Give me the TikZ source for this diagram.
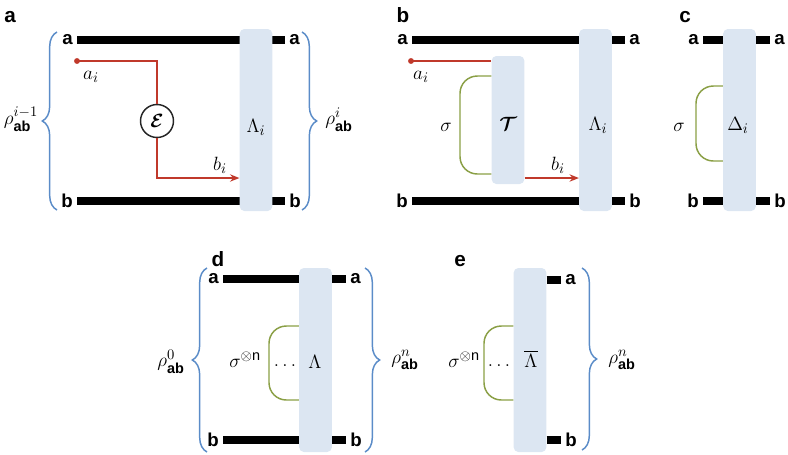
\documentclass[tikz,border=0pt]{standalone}
\usepackage{amsmath,amssymb}
\usepackage{fontspec}
\setmainfont{Liberation Sans}
\usetikzlibrary{decorations.pathreplacing,arrows.meta}

\definecolor{boxblue}{HTML}{DCE6F2}
\definecolor{braceblue}{HTML}{5B8CC8}
\definecolor{qred}{HTML}{C0392B}
\definecolor{bathgreen}{HTML}{8A9F45}

\tikzset{
  wire/.style={line width=6pt},
  opbox/.style={fill=boxblue, rounded corners=3.5pt, minimum width=24.5pt,
    minimum height=136.5pt, inner sep=0pt},
  qline/.style={qred, line width=1.5pt},
  bath/.style={bathgreen, line width=1.1pt, rounded corners=13pt},
  rhobrace/.style={braceblue, line width=1.1pt, decorate,
    decoration={brace, amplitude=11pt}},
  chan/.style={circle, draw=black!85, fill=white, line width=1.1pt,
    minimum size=24.75pt, inner sep=0pt, font=\fontsize{15.5}{18}\selectfont},
  wlab/.style={font=\fontsize{14}{16}\bfseries, inner sep=3pt},
  plab/.style={font=\fontsize{15.5}{18}\bfseries},
  mlab/.style={font=\fontsize{15.5}{18}\selectfont, inner sep=0pt},
  >={Stealth[length=7pt,width=5.5pt]}
}

\begin{document}
\begin{tikzpicture}[x=0.75pt, y=-0.75pt]
    \useasboundingbox (0,0) rectangle (788,454);

    % panel letters
    \node[plab] (pa) at (10,17) {a};
    \node[plab] (pb) at (403,15) {b};
    \node[plab] (pc) at (685,17.5) {c};
    \node[plab] (pd) at (218,259) {d};
    \node[plab] (pe) at (460,261) {e};

    % ---------- a ----------
    \node[wlab, anchor=east] (aa1) at (77,40) {a};
    \node[wlab, anchor=east] (ba1) at (77,201) {b};
    \node[wlab, anchor=west] (aa2) at (285,40) {a};
    \node[wlab, anchor=west] (ba2) at (285,201) {b};
    \draw[wire] (aa1) -- (aa2);
    \draw[wire] (ba1) -- (ba2);
    \node[opbox] (La) at (256,120) {};
    \node[mlab] (Lta) at (256,127) {$\Lambda_i$};

    % channel between a_i and b_i
    \coordinate (ai) at (77,61);
    \coordinate (bi) at (157,178);
    \node[chan] (eps) at (157,121) {$\boldsymbol{\mathcal{E}}$};
    \draw[qline] (ai) -| (eps);
    \draw[qline, ->] (eps) |- (La.west |- bi);
    \fill[qred] (ai) circle (2.2pt);
    \node[mlab] (lai) at (91,77) {$a_i$};
    \node[mlab] (lbi) at (220,165) {$b_i$};

    % states
    \draw[rhobrace] (57,210) -- (57,32);
    \node[mlab] (rho1) at (21,119) {$\rho^{i-1}_{\textbf{ab}}$};
    \draw[rhobrace] (302,32) -- (302,210);
    \node[mlab] (rho2) at (339,120) {$\rho^{i}_{\textbf{ab}}$};

    % ---------- b ----------
    \node[wlab, anchor=east] (ab1) at (412,40) {a};
    \node[wlab, anchor=east] (bb1) at (412,201) {b};
    \node[wlab, anchor=west] (ab2) at (625,40) {a};
    \node[wlab, anchor=west] (bb2) at (625,201) {b};
    \draw[wire] (ab1) -- (ab2);
    \draw[wire] (bb1) -- (bb2);
    \node[opbox] (Lb) at (595.5,120) {};
    \node[mlab] (Ltb) at (598,125) {$\Lambda_i$};
    \node[opbox, minimum height=96pt] (T) at (508,120) {};
    \node[mlab] (Tt) at (508,124) {$\boldsymbol{\mathcal{T}}$};

    \coordinate (ai2) at (411,61);
    \coordinate (bi2) at (524,178);
    \draw[qline] (ai2) -- (T.west |- ai2);
    \fill[qred] (ai2) circle (2.2pt);
    \draw[qline, ->] (T.east |- bi2) -- (Lb.west |- bi2);
    \node[mlab] (lai2) at (421,77) {$a_i$};
    \node[mlab] (lbi2) at (558,165) {$b_i$};

    \coordinate (sb1) at (460,76);
    \coordinate (sb2) at (460,174);
    \draw[bath] (T.west |- sb1) -- (sb1) -- (sb2) -- (T.west |- sb2);
    \node[mlab] (sigb) at (446,127) {$\sigma$};

    % ---------- c ----------
    \node[wlab, anchor=east] (ac1) at (703,40) {a};
    \node[wlab, anchor=east] (bc1) at (703,201) {b};
    \node[wlab, anchor=west] (ac2) at (770,40) {a};
    \node[wlab, anchor=west] (bc2) at (770,201) {b};
    \draw[wire] (ac1) -- (ac2);
    \draw[wire] (bc1) -- (bc2);
    \node[opbox] (Dc) at (739.5,120) {};
    \node[mlab] (Dtc) at (738,125) {$\Delta_i$};

    \coordinate (sc1) at (696,86);
    \coordinate (sc2) at (696,161);
    \draw[bath] (Dc.west |- sc1) -- (sc1) -- (sc2) -- (Dc.west |- sc2);
    \node[mlab] (sigc) at (679,127) {$\sigma$};

    % ---------- d ----------
    \node[wlab, anchor=east] (ad1) at (223,279) {a};
    \node[wlab, anchor=east] (bd1) at (223,440) {b};
    \node[wlab, anchor=west] (ad2) at (346,279) {a};
    \node[wlab, anchor=west] (bd2) at (346,440) {b};
    \draw[wire] (ad1) -- (ad2);
    \draw[wire] (bd1) -- (bd2);
    \node[opbox, minimum height=138pt] (Ld) at (315.5,360) {};
    \node[mlab] (Ltd) at (315,362) {$\Lambda$};

    \coordinate (sd1) at (269,326);
    \coordinate (sd2) at (269,400);
    \draw[bath] (Ld.west |- sd1) -- (sd1) -- (sd2) -- (Ld.west |- sd2);
    \node[mlab] (sigd) at (245,360) {$\sigma^{\otimes\text{n}}$};
    \node[mlab] (dotd) at (285,366) {$\ldots$};

    \draw[rhobrace] (207,452) -- (207,268);
    \node[mlab] (rho3) at (171,362) {$\rho^{0}_{\textbf{ab}}$};
    \draw[rhobrace] (365,268) -- (365,452);
    \node[mlab] (rho4) at (405,360) {$\rho^{n}_{\textbf{ab}}$};

    % ---------- e ----------
    \node[opbox, minimum height=138pt] (Le) at (530,360) {};
    \node[mlab] (Lte) at (531,359) {$\overline{\Lambda}$};
    \node[wlab, anchor=west] (ae) at (561,280) {a};
    \node[wlab, anchor=west] (be) at (561,440) {b};
    \draw[wire] (Le.east |- ae) -- (ae);
    \draw[wire] (Le.east |- be) -- (be);

    \coordinate (se1) at (484,326);
    \coordinate (se2) at (484,400);
    \draw[bath] (Le.west |- se1) -- (se1) -- (se2) -- (Le.west |- se2);
    \node[mlab] (sige) at (464,360) {$\sigma^{\otimes\text{n}}$};
    \node[mlab] (dote) at (499,366) {$\ldots$};

    \draw[rhobrace] (582,268) -- (582,450);
    \node[mlab] (rho5) at (622,360) {$\rho^{n}_{\textbf{ab}}$};
\end{tikzpicture}
\end{document}
